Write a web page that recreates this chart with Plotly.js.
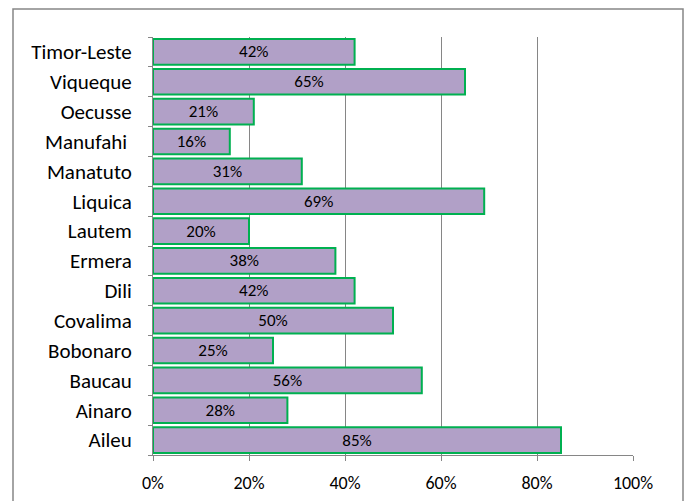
<!DOCTYPE html>
<html><head><meta charset="utf-8">
<script src="https://cdn.plot.ly/plotly-3.0.1.min.js"></script>
<style>html,body{margin:0;padding:0;background:#fff}#chart{width:690px;height:501px}</style>
</head><body><div id="chart"></div>
<script>
const categories = ["Aileu","Ainaro","Baucau","Bobonaro","Covalima","Dili","Ermera","Lautem","Liquica","Manatuto","Manufahi ","Oecusse","Viqueque","Timor-Leste"];
const values = [85,28,56,25,50,42,38,20,69,31,16,21,65,42];
const xTicks = [0,20,40,60,80,100];
const xTickLabels = ["0%","20%","40%","60%","80%","100%"];

const fontFam = "Carlito, 'Open Sans', sans-serif";
const trace = {
  type: 'bar', orientation: 'h',
  x: values, y: categories,
  text: values.map(v => v + '%'),
  textposition: 'inside', insidetextanchor: 'middle', constraintext: 'none',
  textfont: {family: fontFam, size: 17, color: '#000'},
  marker: {color: '#B1A0C7', line: {color: '#00B050', width: 2}},
  hoverinfo: 'none', cliponaxis: false
};
const W = 480, H = 418;
const layout = {
  width: 690, height: 501,
  margin: {l: 153, r: 57, t: 37, b: 46},
  paper_bgcolor: '#fff', plot_bgcolor: '#fff',
  showlegend: false,
  bargap: 0.14,
  font: {family: fontFam, color: '#000'},
  xaxis: {
    range: [0, 100], tickvals: xTicks, ticktext: xTickLabels,
    showgrid: true, gridcolor: '#868686', gridwidth: 1,
    showline: true, linecolor: '#868686', linewidth: 1,
    ticks: 'outside', ticklen: 5, tickcolor: '#868686',
    ticklabelstandoff: 6,
    tickfont: {size: 18, family: fontFam, color: '#000'},
    zeroline: false, fixedrange: true
  },
  yaxis: {
    type: 'category', categoryorder: 'array', categoryarray: categories,
    showline: true, linecolor: '#868686', linewidth: 1,
    ticks: 'outside', ticklen: 4, tickcolor: '#868686', tickson: 'boundaries',
    ticklabelstandoff: 16,
    tickfont: {size: 21, family: fontFam, color: '#000'},
    showgrid: false, zeroline: false, fixedrange: true
  },
  shapes: [{
    type: 'rect', xref: 'paper', yref: 'paper',
    x0: (13 - 153) / W, x1: (683 - 153) / W,
    y0: (455 - 510) / H, y1: (455 - 9) / H,
    line: {color: '#868686', width: 1.5}, fillcolor: 'rgba(0,0,0,0)', layer: 'below'
  }]
};
Plotly.newPlot('chart', [trace], layout, {displayModeBar: false, staticPlot: true});
</script></body></html>
